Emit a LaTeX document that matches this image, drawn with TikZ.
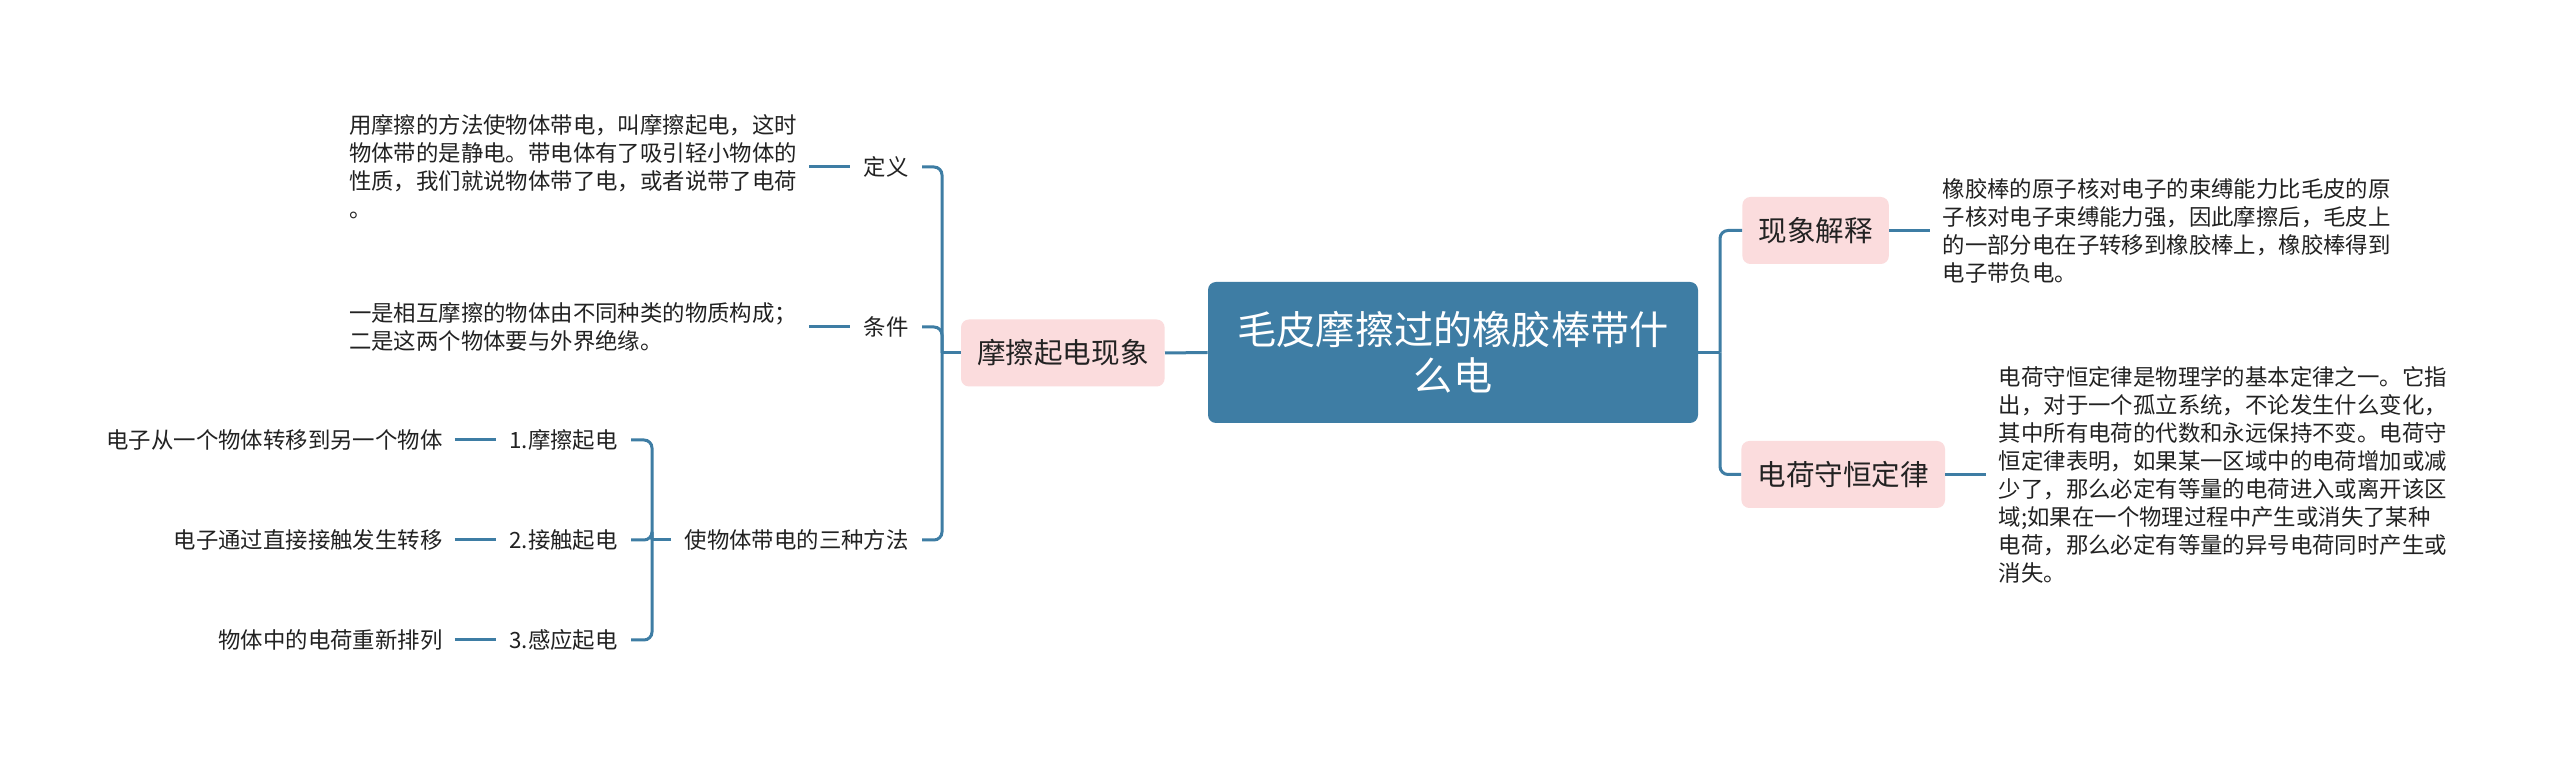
\documentclass[tikz,border=0pt]{standalone}
\usepackage{fontspec}
\setmainfont{Noto Sans CJK SC}
\usetikzlibrary{positioning}
\definecolor{mapblue}{RGB}{62,125,164}
\definecolor{mappink}{RGB}{251,220,221}
\definecolor{mapink}{RGB}{34,34,34}

\begin{document}
\begin{tikzpicture}[x=0.5pt, y=-0.5pt, node distance=20.5pt,
        root/.style={rectangle,rounded corners=4pt,fill=mapblue,text=white,minimum width=245pt,
          minimum height=70.5pt,align=center,font=\fontsize{19.6pt}{23pt}\selectfont},
        topic/.style={rectangle,rounded corners=4pt,fill=mappink,text=mapink,inner xsep=8pt,
          minimum height=33.5pt,font=\fontsize{14.3pt}{17pt}\selectfont},
        tag/.style={inner xsep=6.5pt,text=mapink,font=\fontsize{11.2pt}{14pt}\selectfont},
        note/.style={inner xsep=6pt,text=mapink,align=left,font=\fontsize{11.2pt}{14pt}\selectfont},
        link/.style={draw=mapblue,line width=1.5pt},
        elbow/.style={link,rounded corners=4pt}]
        \fill[white] (0,0) rectangle (2560,763);
        \useasboundingbox (0,0) rectangle (2560,763);
        \node[root] (root) at (1453,352.5) {毛皮摩擦过的橡胶棒带什\\么电};
        \node[topic,anchor=east] (rub) at (1165,353) {摩擦起电现象};
        \node[topic,anchor=west] (expl) at (1742,230.5) {现象解释};
        \node[topic,anchor=west] (law) at (1741,474.5) {电荷守恒定律};
        \node[tag,anchor=east] (def) at (922,167) {定义};
        \node[tag,anchor=east] (cond) at (922,327) {条件};
        \node[tag,anchor=east] (ways) at (922,540) {使物体带电的三种方法};
        \node[tag,anchor=east] (w1) at (631,440) {1.摩擦起电};
        \node[tag,anchor=east] (w2) at (631,540) {2.接触起电};
        \node[tag,anchor=east] (w3) at (631,640) {3.感应起电};
        \node[note,left=of def] (deftext) {用摩擦的方法使物体带电，叫摩擦起电，这时\\物体带的是静电。带电体有了吸引轻小物体的\\性质，我们就说物体带了电，或者说带了电荷\\。};
        \node[note,left=of cond] (condtext) {一是相互摩擦的物体由不同种类的物质构成；\\二是这两个物体要与外界绝缘。};
        \node[note,left=of w1] (w1text) {电子从一个物体转移到另一个物体};
        \node[note,left=of w2] (w2text) {电子通过直接接触发生转移};
        \node[note,left=of w3] (w3text) {物体中的电荷重新排列};
        \node[note,right=of expl] (expltext) {橡胶棒的原子核对电子的束缚能力比毛皮的原\\子核对电子束缚能力强，因此摩擦后，毛皮上\\的一部分电在子转移到橡胶棒上，橡胶棒得到\\电子带负电。};
        \node[note,right=of law] (lawtext) {电荷守恒定律是物理学的基本定律之一。它指\\出，对于一个孤立系统，不论发生什么变化，\\其中所有电荷的代数和永远保持不变。电荷守\\恒定律表明，如果某一区域中的电荷增加或减\\少了，那么必定有等量的电荷进入或离开该区\\域;如果在一个物理过程中产生或消失了某种\\电荷，那么必定有等量的异号电荷同时产生或\\消失。};
        \coordinate (rj) at (1720,352.5);
        \coordinate (lj) at (942,353);
        \coordinate (mj) at (652,540);
        \draw[link] (rub.east) -- (root.west);
        \draw[link] (root.east) -- (rj);
        \draw[elbow] (expl.west) -| (rj);
        \draw[elbow] (law.west) -| (rj);
        \draw[link] (rub.west) -- (lj);
        \foreach \kid in {def,cond,ways}
          \draw[elbow] (\kid.east) -| (lj);
        \draw[link] (ways.west) -- (mj);
        \foreach \kid in {w1,w2,w3}
          \draw[elbow] (\kid.east) -| (mj);
        \foreach \kid/\leaf in {def/deftext,cond/condtext,w1/w1text,w2/w2text,w3/w3text}
          \draw[link] (\leaf.east) -- (\kid.west);
        \draw[link] (expl.east) -- (expltext.west);
        \draw[link] (law.east) -- (lawtext.west);
      \end{tikzpicture}
\end{document}
